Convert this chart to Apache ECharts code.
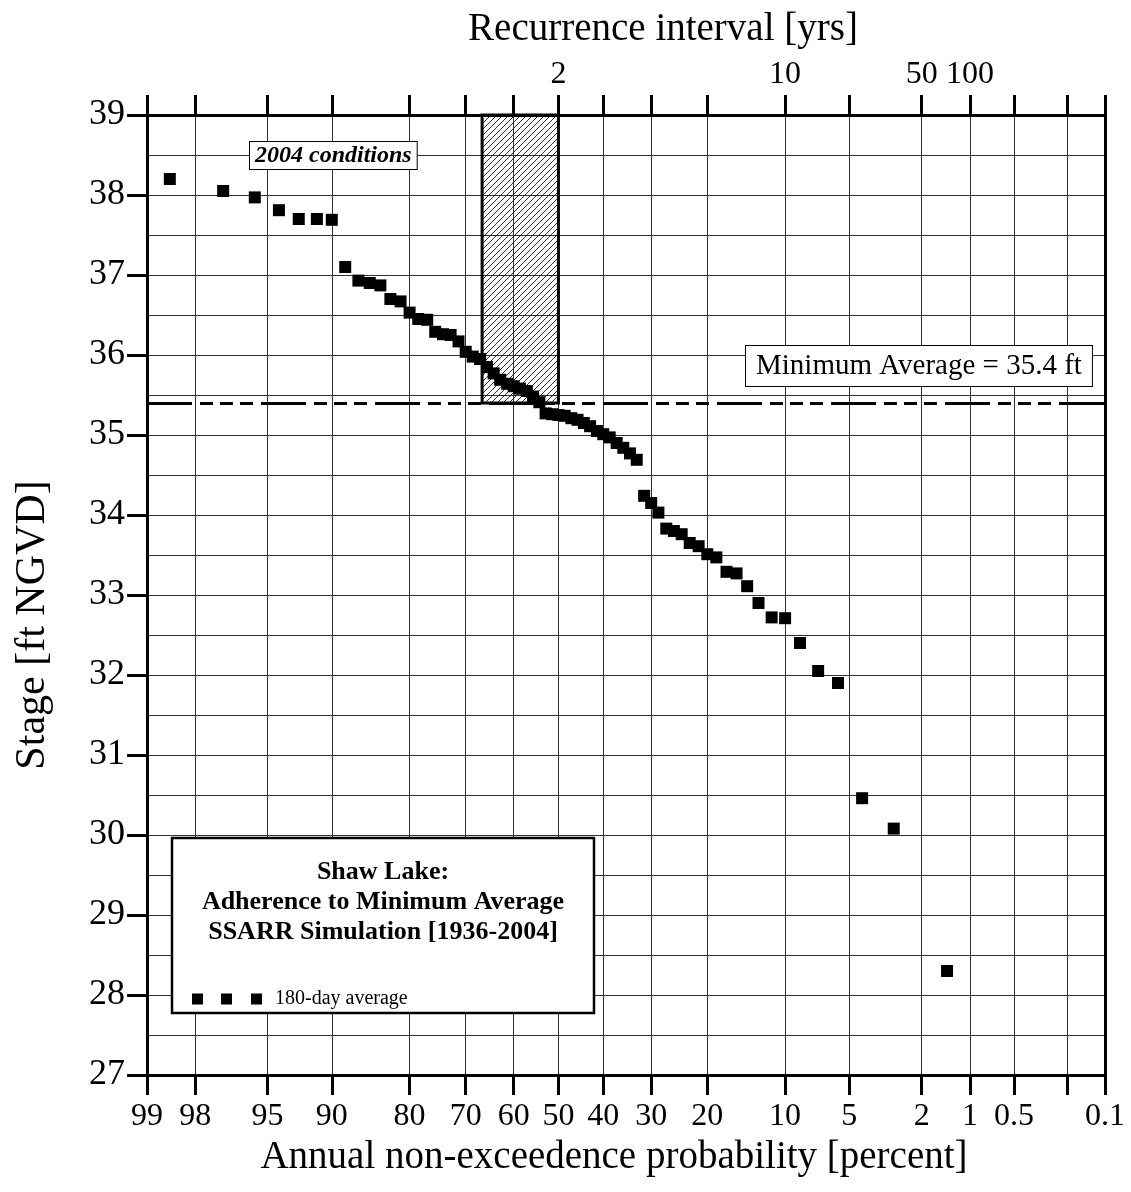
<!DOCTYPE html>
<html>
<head>
<meta charset="utf-8">
<script src="https://cdn.jsdelivr.net/npm/echarts@6/dist/echarts.min.js"></script>
<style>
  html, body { margin: 0; padding: 0; background: #fff; }
  #main { width: 1131px; height: 1192px; }
</style>
</head>
<body>
<div id="main"></div>
<script>
// 180-day average stage, ranked high to low (ft NGVD)
const stages = [
  38.20, 38.05, 37.97, 37.81, 37.70, 37.70, 37.69, 37.10, 36.93, 36.90,
  36.87, 36.70, 36.67, 36.53, 36.45, 36.44, 36.29, 36.26, 36.25, 36.17,
  36.04, 35.98, 35.95, 35.85, 35.77, 35.69, 35.64, 35.61, 35.58, 35.55,
  35.48, 35.41, 35.27, 35.26, 35.25, 35.24, 35.21, 35.19, 35.15, 35.11,
  35.05, 35.01, 34.97, 34.90, 34.84, 34.77, 34.69, 34.24, 34.15, 34.03,
  33.83, 33.80, 33.76, 33.65, 33.61, 33.51, 33.47, 33.29, 33.27, 33.11,
  32.90, 32.72, 32.71, 32.40, 32.05, 31.90, 30.46, 30.08, 28.30
];
// non-exceedence probability of each point (percent)
const probs = [
  98.6, 97.1, 95.7, 94.3, 92.9, 91.4, 90.0, 88.6, 87.1, 85.7,
  84.3, 82.9, 81.4, 80.0, 78.6, 77.1, 75.7, 74.3, 72.9, 71.4,
  70.0, 68.6, 67.1, 65.7, 64.3, 62.9, 61.4, 60.0, 58.6, 57.1,
  55.7, 54.3, 52.9, 51.4, 50.0, 48.6, 47.1, 45.7, 44.3, 42.9,
  41.4, 40.0, 38.6, 37.1, 35.7, 34.3, 32.9, 31.4, 30.0, 28.6,
  27.1, 25.7, 24.3, 22.9, 21.4, 20.0, 18.6, 17.1, 15.7, 14.3,
  12.9, 11.4, 10.0, 8.6, 7.1, 5.7, 4.3, 2.9, 1.4
];
const probTicks = [99, 98, 95, 90, 80, 70, 60, 50, 40, 30, 20, 10, 5, 2, 1, 0.5, 0.2, 0.1];
const probLabels = ['99', '98', '95', '90', '80', '70', '60', '50', '40', '30', '20', '10', '5', '2', '1', '0.5', '', '0.1'];
const recurProbs = [50, 10, 2, 1];
const recurLabels = ['2', '10', '50', '100'];
const minAverage = 35.4;
const hatchProbs = [66.7, 50];
const hatchStages = [35.4, 39];

const FONT = '"Liberation Serif", "Times New Roman", serif';

// inverse normal cdf (Acklam)
function probit(p) {
  const a = [-39.69683028665376, 220.9460984245205, -275.9285104469687, 138.3577518672690, -30.66479806614716, 2.506628277459239];
  const b = [-54.47609879822406, 161.5858368580409, -155.6989798598866, 66.80131188771972, -13.28068155288572];
  const c = [-0.007784894002430293, -0.3223964580411365, -2.400758277161838, -2.549732539343734, 4.374664141464968, 2.938163982698783];
  const d = [0.007784695709041462, 0.3224671290700398, 2.445134137142996, 3.754408661907416];
  const pl = 0.02425;
  let q, r;
  if (p < pl) {
    q = Math.sqrt(-2 * Math.log(p));
    return (((((c[0] * q + c[1]) * q + c[2]) * q + c[3]) * q + c[4]) * q + c[5]) / ((((d[0] * q + d[1]) * q + d[2]) * q + d[3]) * q + 1);
  }
  if (p <= 1 - pl) {
    q = p - 0.5; r = q * q;
    return (((((a[0] * r + a[1]) * r + a[2]) * r + a[3]) * r + a[4]) * r + a[5]) * q / (((((b[0] * r + b[1]) * r + b[2]) * r + b[3]) * r + b[4]) * r + 1);
  }
  q = Math.sqrt(-2 * Math.log(1 - p));
  return -(((((c[0] * q + c[1]) * q + c[2]) * q + c[3]) * q + c[4]) * q + c[5]) / ((((d[0] * q + d[1]) * q + d[2]) * q + d[3]) * q + 1);
}
// probability axis: 99% on the left, 0.1% on the right
const toX = pct => -probit(pct / 100);

function labelFor(value, ticks, labels) {
  for (let i = 0; i < ticks.length; i++) {
    if (Math.abs(toX(ticks[i]) - value) < 1e-6) return labels[i];
  }
  return '';
}

// hatch pattern for the 2004 box
const hatch = document.createElement('canvas');
hatch.width = 6; hatch.height = 6;
const hc = hatch.getContext('2d');
hc.strokeStyle = '#000';
hc.lineWidth = 0.8;
hc.beginPath();
hc.moveTo(0, 6); hc.lineTo(6, 0);
hc.moveTo(-1, 1); hc.lineTo(1, -1);
hc.moveTo(5, 7); hc.lineTo(7, 5);
hc.stroke();

const tickVals = probTicks.map(toX);
const recurVals = recurProbs.map(toX);
const xMin = toX(probTicks[0]);
const xMax = toX(probTicks[probTicks.length - 1]);

const chart = echarts.init(document.getElementById('main'));

const option = {
  backgroundColor: '#fff',
  animation: false,
  grid: { left: 147, right: 26, top: 115, bottom: 117, containLabel: false, outerBoundsMode: 'none' },
  xAxis: [
    {
      type: 'value', position: 'bottom', min: xMin, max: xMax,
      axisLine: { show: true, onZero: false, lineStyle: { color: '#000', width: 3 } },
      axisTick: { show: true, customValues: tickVals, length: 20, lineStyle: { color: '#000', width: 3 } },
      axisLabel: {
        customValues: tickVals, margin: 26, color: '#000', fontSize: 32, fontFamily: FONT,
        formatter: v => labelFor(v, probTicks, probLabels)
      },
      splitLine: { show: true, lineStyle: { color: '#333', width: 1 } },
      name: 'Annual non-exceedence probability [percent]',
      nameLocation: 'middle', nameGap: 52,
      nameTextStyle: { color: '#000', fontSize: 39, fontFamily: FONT, padding: [0, 24, 0, 0] }
    },
    {
      type: 'value', position: 'top', min: xMin, max: xMax,
      axisLine: { show: true, onZero: false, lineStyle: { color: '#000', width: 3 } },
      axisTick: { show: true, customValues: tickVals, length: 20, lineStyle: { color: '#000', width: 3 } },
      axisLabel: {
        customValues: recurVals, margin: 24, color: '#000', fontSize: 32, fontFamily: FONT,
        formatter: v => labelFor(v, recurProbs, recurLabels)
      },
      splitLine: { show: false },
      name: 'Recurrence interval [yrs]',
      nameLocation: 'middle', nameGap: 66,
      nameTextStyle: { color: '#000', fontSize: 39, fontFamily: FONT, padding: [0, 0, 0, 74] }
    }
  ],
  yAxis: [
    {
      type: 'value', position: 'left', min: 27, max: 39, interval: 1,
      axisLine: { show: true, onZero: false, lineStyle: { color: '#000', width: 3 } },
      axisTick: { show: true, length: 20, lineStyle: { color: '#000', width: 3 } },
      axisLabel: { margin: 22, color: '#000', fontSize: 36, fontFamily: FONT },
      splitLine: { show: true, lineStyle: { color: '#333', width: 1 } },
      minorTick: { show: false, splitNumber: 2 },
      minorSplitLine: { show: true, lineStyle: { color: '#333', width: 1 } },
      name: 'Stage [ft NGVD]',
      nameLocation: 'middle', nameGap: 93,
      nameTextStyle: { color: '#000', fontSize: 42, fontFamily: FONT, padding: [0, 60, 0, 0] }
    },
    {
      type: 'value', position: 'right', min: 27, max: 39, interval: 1,
      axisLine: { show: true, onZero: false, lineStyle: { color: '#000', width: 3 } },
      axisTick: { show: false },
      axisLabel: { show: false },
      splitLine: { show: false }
    }
  ],
  legend: {
    left: 187, top: 984, z: 120,
    itemWidth: 70, itemHeight: 11, itemGap: 10,
    textStyle: { color: '#000', fontSize: 20, fontFamily: FONT, padding: [0, 0, 0, 8] },
    data: [{ name: '180-day average', icon: 'path://M0,0h11v11h-11z M29,0h11v11h-11z M59,0h11v11h-11z' }]
  },
  series: [
    {
      name: 'frame',
      type: 'line',
      data: [],
      silent: true,
      markArea: {
        silent: true,
        itemStyle: { color: { image: hatch, repeat: 'repeat' }, borderColor: '#000', borderWidth: 3 },
        data: [[
          { xAxis: toX(hatchProbs[0]), yAxis: hatchStages[0] },
          { xAxis: toX(hatchProbs[1]), yAxis: hatchStages[1] }
        ]]
      },
      markLine: {
        silent: true,
        symbol: 'none',
        label: { show: false },
        lineStyle: { color: '#000', width: 3, type: [45, 8, 13, 7, 13, 7, 13, 8] },
        data: [{ yAxis: minAverage }]
      }
    },
    {
      name: '180-day average',
      type: 'scatter',
      symbol: 'rect',
      symbolSize: 12,
      itemStyle: { color: '#000', opacity: 1 },
      z: 5,
      data: stages.map((s, i) => [toX(probs[i]), s])
    }
  ],
  graphic: [
    {
      type: 'text', x: 250, y: 142, z: 100,
      style: {
        text: '2004 conditions', font: 'italic bold 24px ' + FONT, fill: '#000',
        backgroundColor: '#fff', borderColor: '#000', borderWidth: 1, padding: [2, 5, 1, 5]
      }
    },
    {
      type: 'text', x: 746, y: 346, z: 100,
      style: {
        text: 'Minimum Average = 35.4 ft', font: '29px ' + FONT, fill: '#000',
        backgroundColor: '#fff', borderColor: '#000', borderWidth: 1, padding: [6, 10, 5, 10]
      }
    },
    {
      type: 'rect', z: 100,
      shape: { x: 172, y: 838, width: 422, height: 175 },
      style: { fill: '#fff', stroke: '#000', lineWidth: 2.5 }
    },
    {
      type: 'text', x: 383, y: 857, z: 101,
      style: {
        text: 'Shaw Lake:\nAdherence to Minimum Average\nSSARR Simulation [1936-2004]',
        font: 'bold 26px ' + FONT, fill: '#000', align: 'center', lineHeight: 30
      }
    }
  ]
};

chart.setOption(option);
</script>
</body>
</html>
